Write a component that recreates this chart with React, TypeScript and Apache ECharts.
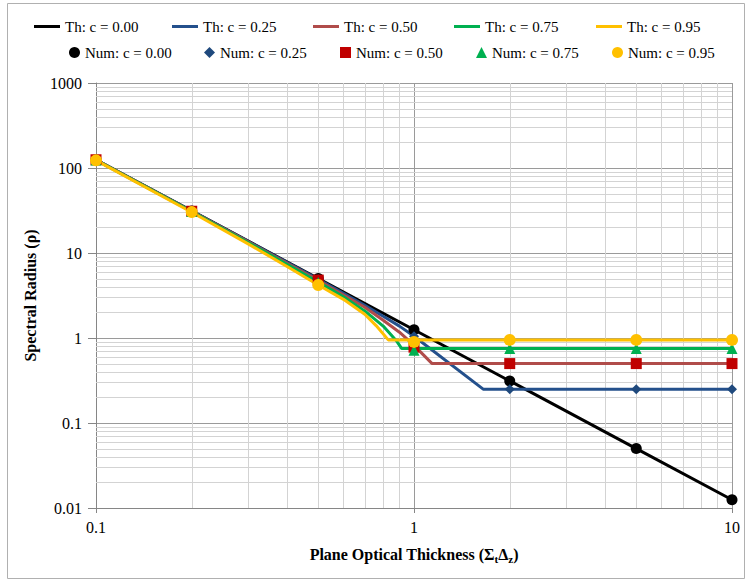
import React, { useEffect, useRef } from "react";
import * as echarts from "echarts";

// Axis tick labels
const xTickLabels = ["0.1", "1", "10"];
const yTickLabels = ["0.01", "0.1", "1", "10", "100", "1000"];

// Theoretical curves (x = plane optical thickness, y = spectral radius)
const thX000 = [0.1, 0.2, 0.5, 1, 2, 5, 10];
const thY000 = [125, 31.25, 5, 1.25, 0.3125, 0.05, 0.0125];

const thX025 = [0.1, 0.2, 0.3, 0.4, 0.5, 0.6, 0.7, 0.8, 0.9, 1.0, 1.65, 10];
const thY025 = [125, 31.2, 13.8, 7.7, 4.9, 3.35, 2.42, 1.8, 1.38, 1.05, 0.25, 0.25];

const thX050 = [0.1, 0.2, 0.3, 0.4, 0.5, 0.6, 0.7, 0.8, 0.9, 1.0, 1.14, 10];
const thY050 = [125, 31, 13.6, 7.5, 4.75, 3.2, 2.3, 1.62, 1.17, 0.82, 0.5, 0.5];

const thX075 = [0.1, 0.2, 0.3, 0.4, 0.5, 0.6, 0.7, 0.8, 0.88, 0.915, 10];
const thY075 = [124, 30.8, 13.4, 7.3, 4.55, 3.05, 2.08, 1.38, 0.93, 0.75, 0.75];

const thX095 = [0.1, 0.2, 0.3, 0.4, 0.5, 0.6, 0.7, 0.76, 0.83, 10];
const thY095 = [123, 30.2, 12.9, 6.9, 4.2, 2.85, 1.9, 1.4, 0.95, 0.95];

// Numerical results
const numX = [0.1, 0.2, 0.5, 1, 2, 5, 10];
const numY000 = [125, 31.25, 5, 1.25, 0.3125, 0.05, 0.0125];
const numY025 = [125, 31.2, 4.9, 1.05, 0.25, 0.25, 0.25];
const numY050 = [125, 31, 4.8, 0.78, 0.5, 0.5, 0.5];
const numY075 = [124, 30.8, 4.5, 0.72, 0.75, 0.75, 0.75];
const numY095 = [123, 30.3, 4.2, 0.9, 0.95, 0.95, 0.95];

const thNames = ["Th: c = 0.00", "Th: c = 0.25", "Th: c = 0.50", "Th: c = 0.75", "Th: c = 0.95"];
const numNames = ["Num: c = 0.00", "Num: c = 0.25", "Num: c = 0.50", "Num: c = 0.75", "Num: c = 0.95"];

const FONT = '"Liberation Serif", "Times New Roman", serif';

const zip = (xs: number[], ys: number[]) => xs.map((x, i) => [x, ys[i]]);

const fmt = (labels: string[]) => (v: number) => {
  const hit = labels.find((l) => Math.abs(Math.log10(parseFloat(l)) - Math.log10(v)) < 1e-6);
  return hit ?? "";
};

// minor log gridlines at 2..9 of each decade
const minorLines = (lo: number, hi: number) => {
  const out: number[] = [];
  for (let d = lo; d < hi * 0.999; d *= 10) {
    for (let m = 2; m <= 9; m++) out.push(+(m * d).toPrecision(6));
  }
  return out;
};

const crisp = (v: number) => Math.round(v) + 0.5;

export default function App() {
  const ref = useRef<HTMLDivElement>(null);

  useEffect(() => {
    if (!ref.current) return;
    const chart = echarts.init(ref.current, null, { renderer: "svg" });

    const thColors = ["#000000", "#24508C", "#B04C4A", "#00B050", "#FFC000"];
    const numColors = ["#000000", "#1F497D", "#C00000", "#00B050", "#FFC000"];
    const numSymbols = ["circle", "diamond", "rect", "triangle", "circle"];
    const numSizes = [11, 10, 11, 11, 12];
    const thData = [zip(thX000, thY000), zip(thX025, thY025), zip(thX050, thY050), zip(thX075, thY075), zip(thX095, thY095)];
    const numData = [numY000, numY025, numY050, numY075, numY095].map((ys) => zip(numX, ys));

    const thLegendLeft = [34, 172, 313, 454, 596];
    const numLegendLeft = [69, 204, 340, 476, 612];

    const legends: any[] = [];
    thNames.forEach((n, i) =>
      legends.push({
        data: [n],
        left: thLegendLeft[i],
        top: 19,
        padding: 0,
        icon: "rect",
        itemWidth: 26,
        itemHeight: 3,
        selectedMode: false,
        textStyle: { fontFamily: FONT, fontSize: 15, color: "#000" },
      })
    );
    numNames.forEach((n, i) =>
      legends.push({
        data: [n],
        left: numLegendLeft[i],
        top: 45,
        padding: 0,
        itemWidth: 11,
        itemHeight: 11,
        selectedMode: false,
        itemStyle: { opacity: 1 },
        textStyle: { fontFamily: FONT, fontSize: 15, color: "#000" },
      })
    );

    const gridStyle = { stroke: "#d3d3d3", lineWidth: 1 };
    const series: any[] = [
      {
        type: "custom",
        name: "minorX",
        coordinateSystem: "cartesian2d",
        silent: true,
        z: 1,
        data: minorLines(0.1, 10).map((v) => [v, 1]),
        renderItem: (_p: any, api: any) => {
          const a = api.coord([api.value(0), 0.01]);
          const b = api.coord([api.value(0), 1000]);
          const x = crisp(a[0]);
          return { type: "line", shape: { x1: x, y1: a[1], x2: x, y2: b[1] }, style: gridStyle };
        },
      },
      {
        type: "custom",
        name: "minorY",
        coordinateSystem: "cartesian2d",
        silent: true,
        z: 1,
        data: minorLines(0.01, 1000).map((v) => [1, v]),
        renderItem: (_p: any, api: any) => {
          const a = api.coord([0.1, api.value(1)]);
          const b = api.coord([10, api.value(1)]);
          const y = crisp(a[1]);
          return { type: "line", shape: { x1: a[0], y1: y, x2: b[0], y2: y }, style: gridStyle };
        },
      },
    ];
    thNames.forEach((n, i) =>
      series.push({
        type: "line",
        name: n,
        data: thData[i],
        symbol: "none",
        z: 3,
        itemStyle: { color: thColors[i] },
        lineStyle: { color: thColors[i], width: 3 },
      })
    );
    numNames.forEach((n, i) =>
      series.push({
        type: "scatter",
        name: n,
        data: numData[i],
        symbol: numSymbols[i],
        symbolSize: numSizes[i],
        z: 4,
        itemStyle: { color: numColors[i], opacity: 1 },
      })
    );

    chart.setOption({
      animation: false,
      backgroundColor: "#ffffff",
      textStyle: { fontFamily: FONT },
      graphic: [
        {
          type: "rect",
          shape: { x: 7.5, y: 3.5, width: 737, height: 575 },
          style: { fill: "none", stroke: "#b0b0b0", lineWidth: 1 },
          silent: true,
        },
      ],
      legend: legends,
      grid: { left: 96, right: 15, top: 83, bottom: 72, containLabel: false },
      xAxis: {
        type: "log",
        logBase: 10,
        min: 0.1,
        max: 10,
        name: "{a|Plane Optical Thickness (Σ}{s|t}{a|Δ}{s|z}{a|)}",
        nameLocation: "middle",
        nameGap: 36,
        nameTextStyle: {
          rich: {
            a: { fontFamily: FONT, fontSize: 16, fontWeight: "bold", color: "#000", lineHeight: 20 },
            s: { fontFamily: FONT, fontSize: 11, fontWeight: "bold", color: "#000", lineHeight: 13, verticalAlign: "bottom" },
          },
        },
        axisLine: { lineStyle: { color: "#868686", width: 1 } },
        axisTick: { show: true, length: 5, lineStyle: { color: "#868686" } },
        axisLabel: { margin: 11, fontFamily: FONT, fontSize: 16, color: "#000", formatter: fmt(xTickLabels) },
        splitLine: { show: true, lineStyle: { color: "#9a9a9a", width: 1 } },
      },
      yAxis: {
        type: "log",
        logBase: 10,
        min: 0.01,
        max: 1000,
        name: "Spectral Radius (ρ)",
        nameLocation: "middle",
        nameGap: 58,
        nameRotate: 90,
        nameTextStyle: { fontFamily: FONT, fontSize: 16, fontWeight: "bold", color: "#000" },
        axisLine: { lineStyle: { color: "#868686", width: 1 } },
        axisTick: { show: true, length: 8, lineStyle: { color: "#868686" } },
        axisLabel: { margin: 14, fontFamily: FONT, fontSize: 16, color: "#000", formatter: fmt(yTickLabels) },
        splitLine: { show: true, lineStyle: { color: "#9a9a9a", width: 1 } },
      },
      series,
    });

    return () => chart.dispose();
  }, []);

  return (
    <div
      ref={ref}
      style={{ position: "absolute", left: 0, top: 0, width: 747, height: 580, background: "#fff" }}
    />
  );
}
